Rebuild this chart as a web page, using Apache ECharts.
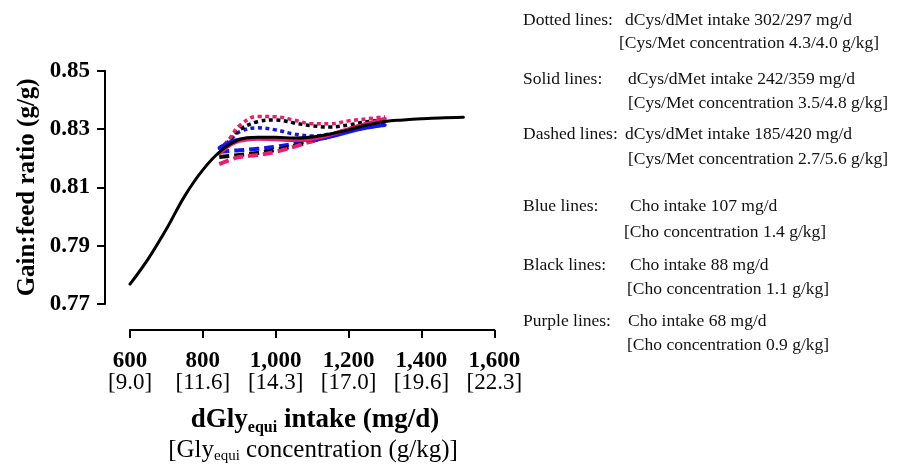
<!DOCTYPE html>
<html>
<head>
<meta charset="utf-8">
<script src="https://cdn.jsdelivr.net/npm/echarts@6/dist/echarts.min.js"></script>
<style>
html,body{margin:0;padding:0;background:#fff;}
#c{width:898px;height:468px;}
</style>
</head>
<body>
<div id="c"></div>
<script>
// ---- data ----
const xTicks = [600, 800, 1000, 1200, 1400, 1600];
const xTickConc = ['[9.0]', '[11.6]', '[14.3]', '[17.0]', '[19.6]', '[22.3]'];
const yTicks = [0.77, 0.79, 0.81, 0.83, 0.85];

// main black solid curve
const xMain = [600, 650, 700, 750, 800, 850, 900, 950, 1000, 1050, 1100, 1150, 1200, 1250, 1300, 1350, 1400, 1450, 1515];
const blackSolid = [0.7768, 0.7855, 0.7957, 0.8070, 0.8160, 0.8226, 0.8264, 0.8272, 0.8272, 0.8269, 0.8273, 0.8283, 0.8297, 0.8314, 0.8326, 0.8331, 0.8335, 0.8338, 0.8340];

// other curves share x values
const xSub = [845, 875, 900, 950, 1000, 1050, 1100, 1150, 1200, 1250, 1300];
const pinkDotted  = [0.8228, 0.8270, 0.8311, 0.8343, 0.8342, 0.8331, 0.8318, 0.8318, 0.8328, 0.8335, 0.8342];
const blackDotted = [0.8228, 0.8265, 0.8297, 0.8325, 0.8331, 0.8321, 0.8311, 0.8307, 0.8314, 0.8325, 0.8331];
const blueDotted  = [0.8235, 0.8262, 0.8290, 0.8304, 0.8297, 0.8283, 0.8276, 0.8283, 0.8297, 0.8307, 0.8314];
const pinkSolid   = [0.8215, 0.8245, 0.8259, 0.8266, 0.8264, 0.8262, 0.8266, 0.8280, 0.8300, 0.8318, 0.8335];
const blueSolid   = [0.8235, 0.8256, 0.8264, 0.8268, 0.8266, 0.8262, 0.8262, 0.8273, 0.8290, 0.8304, 0.8314];
const blueDashed  = [0.8222, 0.8225, 0.8227, 0.8232, 0.8239, 0.8249, 0.8263, 0.8280, 0.8297, 0.8307, 0.8314];
const blackDashed = [0.8204, 0.8208, 0.8211, 0.8218, 0.8228, 0.8242, 0.8259, 0.8276, 0.8294, 0.8307, 0.8321];
const pinkDashed  = [0.8180, 0.8194, 0.8204, 0.8211, 0.8222, 0.8239, 0.8259, 0.8280, 0.8300, 0.8318, 0.8335];

const legendLines = [
  ['Dotted lines:', 'dCys/dMet intake 302/297 mg/d', '[Cys/Met concentration 4.3/4.0 g/kg]'],
  ['Solid lines:', 'dCys/dMet intake 242/359 mg/d', '[Cys/Met concentration 3.5/4.8 g/kg]'],
  ['Dashed lines:', 'dCys/dMet intake 185/420 mg/d', '[Cys/Met concentration 2.7/5.6 g/kg]'],
  ['Blue lines:', 'Cho intake 107 mg/d', '[Cho concentration 1.4 g/kg]'],
  ['Black lines:', 'Cho intake 88 mg/d', '[Cho concentration 1.1 g/kg]'],
  ['Purple lines:', 'Cho intake 68 mg/d', '[Cho concentration 0.9 g/kg]']
];

// ---- styling / layout ----
const FONT = '"Liberation Serif", "Times New Roman", serif';
const BLUE = '#1414f5';
const PINK = '#ec1c6e';
const BLACK = '#000000';
const DOT = [4, 3.5];
const DASH = [10, 5];

function pairs(xs, ys) { return xs.map((x, i) => [x, ys[i]]); }
function line(name, xs, ys, color, type, width) {
  return {
    name, type: 'line', data: pairs(xs, ys), smooth: 0.4, showSymbol: false, symbol: 'none',
    lineStyle: { color, width, type, cap: type === 'solid' ? 'round' : 'butt' },
    silent: true, animation: false, clip: false
  };
}

const legendPos = [
  { y1: 21, y2: 44, x1: 625, x2: 619 },
  { y1: 80, y2: 104, x1: 628, x2: 628 },
  { y1: 135, y2: 160, x1: 625, x2: 628 },
  { y1: 207, y2: 233, x1: 630, x2: 624 },
  { y1: 266, y2: 290, x1: 630, x2: 627 },
  { y1: 322, y2: 346, x1: 628, x2: 627 }
];
const graphics = [];
legendLines.forEach((l, i) => {
  const p = legendPos[i];
  const st = { font: '17.5px ' + FONT, fill: '#111', textVerticalAlign: 'middle', textAlign: 'left' };
  graphics.push({ type: 'text', left: 523, top: p.y1 - 10, style: Object.assign({ text: l[0] }, st) });
  graphics.push({ type: 'text', left: p.x1, top: p.y1 - 10, style: Object.assign({ text: l[1] }, st) });
  graphics.push({ type: 'text', left: p.x2, top: p.y2 - 10, style: Object.assign({ text: l[2] }, st) });
});
// x axis titles
graphics.push({
  type: 'text', x: 315, y: 420,
  style: {
    text: '{b|dGly}{s|equi}{b| intake (mg/d)}',
    align: 'center', verticalAlign: 'middle',
    rich: {
      b: { fontFamily: FONT, fontWeight: 'bold', fontSize: 27, lineHeight: 32, fill: '#000' },
      s: { fontFamily: FONT, fontWeight: 'bold', fontSize: 16, lineHeight: 16, verticalAlign: 'bottom', fill: '#000' }
    }
  }
});
graphics.push({
  type: 'text', x: 313, y: 450,
  style: {
    text: '{b|[Gly}{s|equi}{b| concentration (g/kg)]}',
    align: 'center', verticalAlign: 'middle',
    rich: {
      b: { fontFamily: FONT, fontSize: 25, lineHeight: 28, fill: '#000' },
      s: { fontFamily: FONT, fontSize: 15, lineHeight: 15, verticalAlign: 'bottom', fill: '#000' }
    }
  }
});

const chart = echarts.init(document.getElementById('c'), null, { renderer: 'canvas' });
chart.setOption({
  animation: false,
  backgroundColor: '#fff',
  grid: { left: 130, top: 70.7, width: 364.3, height: 233.3, containLabel: false },
  xAxis: {
    type: 'value', min: 600, max: 1600, interval: 200, offset: 26,
    axisLine: { show: true, lineStyle: { color: '#000', width: 2 } },
    axisTick: { show: true, inside: false, length: 8, lineStyle: { color: '#000', width: 2 } },
    splitLine: { show: false },
    axisLabel: {
      margin: 20,
      formatter: function (v) {
        const i = xTicks.indexOf(v);
        return '{a|' + v.toLocaleString('en-US') + '}\n{b|' + xTickConc[i] + '}';
      },
      rich: {
        a: { fontFamily: FONT, fontWeight: 'bold', fontSize: 23, lineHeight: 22, color: '#000' },
        b: { fontFamily: FONT, fontSize: 23, lineHeight: 22, color: '#000' }
      }
    }
  },
  yAxis: {
    type: 'value', min: 0.77, max: 0.85, interval: 0.02, offset: 25,
    axisLine: { show: true, lineStyle: { color: '#000', width: 2 } },
    axisTick: { show: true, inside: false, length: 8, lineStyle: { color: '#000', width: 2 } },
    splitLine: { show: false },
    axisLabel: {
      margin: 15, fontFamily: FONT, fontWeight: 'bold', fontSize: 23, color: '#000',
      formatter: v => v.toFixed(2)
    },
    name: 'Gain:feed ratio (g/g)', nameLocation: 'middle', nameGap: 65, nameRotate: 90,
    nameTextStyle: { fontFamily: FONT, fontWeight: 'bold', fontSize: 25, color: '#000' }
  },
  graphic: graphics,
  series: [
    line('blueDashed', xSub, blueDashed, BLUE, DASH, 4),
    line('blackDashed', xSub, blackDashed, BLACK, DASH, 4),
    line('pinkDashed', xSub, pinkDashed, PINK, DASH, 4),
    line('blueDotted', xSub, blueDotted, BLUE, DOT, 3.5),
    line('blackDotted', xSub, blackDotted, BLACK, DOT, 3.5),
    line('pinkDotted', xSub, pinkDotted, PINK, DOT, 3.5),
    line('blueSolid', xSub, blueSolid, BLUE, 'solid', 3.5),
    line('pinkSolid', xSub, pinkSolid, PINK, 'solid', 3.5),
    line('blackSolid', xMain, blackSolid, BLACK, 'solid', 3)
  ]
});
</script>
</body>
</html>
